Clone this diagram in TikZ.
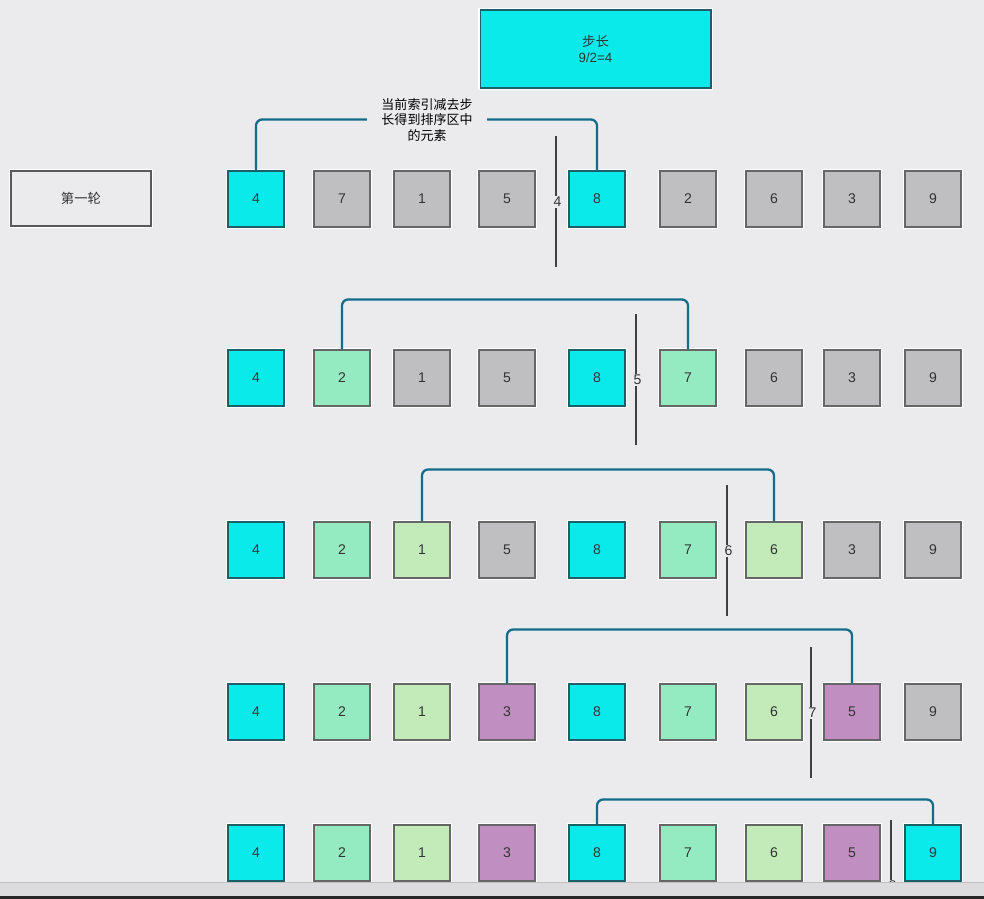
\documentclass[tikz,border=0pt]{standalone}
\usepackage{fontspec}
\setmainfont{Liberation Sans}
\newfontfamily\cjk{Noto Sans CJK SC}

\definecolor{bg}{HTML}{EBEAED}
\definecolor{cyanc}{HTML}{0BEAEA}
\definecolor{grayc}{HTML}{BFBEC1}
\definecolor{greenc}{HTML}{94EAC1}
\definecolor{lgreenc}{HTML}{C3EBBA}
\definecolor{purplec}{HTML}{C08EC0}
\definecolor{linkc}{HTML}{136C8A}
\definecolor{tealb}{HTML}{1D5F66}
\definecolor{barc}{HTML}{DCDBDE}

\tikzset{
  cell/.style={draw=black!60, line width=0.6pt, minimum size=1.12cm, inner sep=0pt,
    font=\fontsize{8}{9}\selectfont, text=black!80,
    preaction={draw=white, line width=1.8pt}},
  cy/.style={cell, fill=cyanc, draw=tealb},
  gy/.style={cell, fill=grayc},
  gn/.style={cell, fill=greenc},
  lg/.style={cell, fill=lgreenc},
  pu/.style={cell, fill=purplec},
  link/.style={draw=linkc, line width=1.3pt, rounded corners=3.5pt},
  gapline/.style={draw=black!75, line width=0.6pt},
  gaplabel/.style={fill=bg, inner sep=0.4pt, font=\fontsize{8}{9}\selectfont, text=black!80}
}

\begin{document}
\begin{tikzpicture}[x=0.02cm, y=-0.02cm]
    \useasboundingbox (0,0) rectangle (984,899);
    \fill[bg] (0,0) rectangle (984,899);
    \def\colx{{256,342,422,507,597,688,774,852,933}}

    % Step and round
    \node[cy, minimum width=4.62cm, minimum height=1.56cm, align=center,
          font=\fontsize{7.6}{9.1}\selectfont] (stepbox) at (595.5,49) {{\cjk 步长}\\9/2=4};
    \node[cell, fill=bg, draw=black!65, minimum width=2.8cm, minimum height=1.1cm,
          font=\cjk\fontsize{7.6}{9.1}\selectfont] (round) at (81,198.5) {第一轮};

    % Row 1
    \foreach \c/\v [count=\i] in {cy/4,gy/7,gy/1,gy/5,cy/8,gy/2,gy/6,gy/3,gy/9} {
        \pgfmathsetmacro{\x}{\colx[\i-1]}
        \node[\c] (r1c\i) at (\x,199) {\v};
    }
    % Row 2
    \foreach \c/\v [count=\i] in {cy/4,gn/2,gy/1,gy/5,cy/8,gn/7,gy/6,gy/3,gy/9} {
        \pgfmathsetmacro{\x}{\colx[\i-1]}
        \node[\c] (r2c\i) at (\x,378) {\v};
    }
    % Row 3
    \foreach \c/\v [count=\i] in {cy/4,gn/2,lg/1,gy/5,cy/8,gn/7,lg/6,gy/3,gy/9} {
        \pgfmathsetmacro{\x}{\colx[\i-1]}
        \node[\c] (r3c\i) at (\x,550) {\v};
    }
    % Row 4
    \foreach \c/\v [count=\i] in {cy/4,gn/2,lg/1,pu/3,cy/8,gn/7,lg/6,pu/5,gy/9} {
        \pgfmathsetmacro{\x}{\colx[\i-1]}
        \node[\c] (r4c\i) at (\x,712) {\v};
    }
    % Row 5
    \foreach \c/\v [count=\i] in {cy/4,gn/2,lg/1,pu/3,cy/8,gn/7,lg/6,pu/5,cy/9} {
        \pgfmathsetmacro{\x}{\colx[\i-1]}
        \node[\c] (r5c\i) at (\x,853) {\v};
    }

    % Compared pairs
    \draw[link] (r1c1.north) -- ++(0,-51) -| (r1c5.north);
    \draw[link] (r2c2.north) -- ++(0,-50) -| (r2c6.north);
    \draw[link] (r3c3.north) -- ++(0,-52) -| (r3c7.north);
    \draw[link] (r4c4.north) -- ++(0,-54) -| (r4c8.north);
    \draw[link] (r5c5.north) -- ++(0,-25) -| (r5c9.north);
    \node[fill=bg, align=center, inner xsep=8pt, inner ysep=1pt,
          font=\cjk\fontsize{7.4}{9.1}\selectfont] (note) at (427,120)
        {当前索引减去步\\长得到排序区中\\的元素};

    % Current index
    \foreach \k/\x/\y/\n in {1/556/202/4, 2/636/380/5, 3/727/551/6, 4/811/713/7, 5/891/886/8} {
        \coordinate (sa\k) at (\x,\y-66);
        \coordinate (sb\k) at (\x,\y+65);
        \draw[gapline] (sa\k) -- (sb\k);
        \node[gaplabel] (s\k) at (\x+1.5,\y) {\n};
    }

    % Scroll bar
    \fill[barc] (0,882) rectangle (984,896);
    \draw[black!25] (0,882) -- (984,882);
    \fill[black!85] (0,896) rectangle (984,899);
\end{tikzpicture}
\end{document}
